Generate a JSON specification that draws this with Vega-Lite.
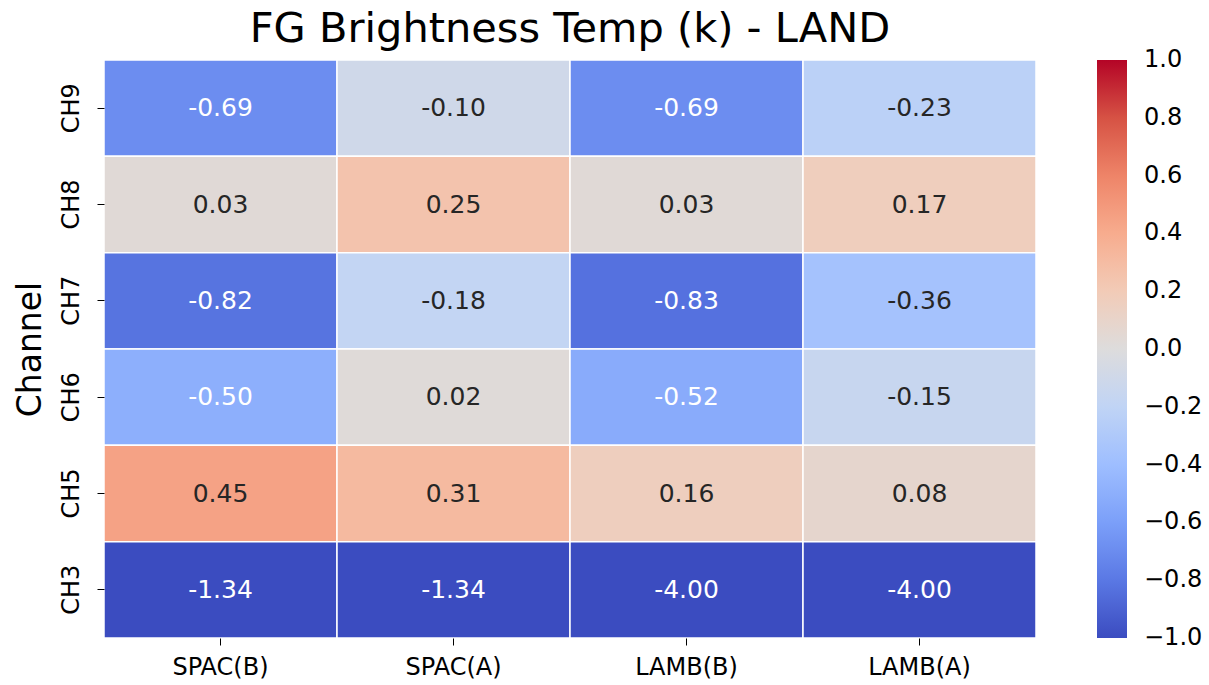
{
  "$schema": "https://vega.github.io/schema/vega-lite/v6.json",
  "autosize": {"type": "none"},
  "padding": {"left": 104, "top": 60, "right": 173, "bottom": 47},
  "width": 932,
  "height": 578,
  "background": "white",
  "title": {"text": "FG Brightness Temp (k) - LAND", "fontSize": 41.5, "font": "DejaVu Sans", "fontWeight": "normal", "color": "#000000", "anchor": "middle", "offset": 9},
  "data": {"values": [
    {"channel": "CH9", "method": "SPAC(B)", "v": -0.69},
    {"channel": "CH9", "method": "SPAC(A)", "v": -0.10},
    {"channel": "CH9", "method": "LAMB(B)", "v": -0.69},
    {"channel": "CH9", "method": "LAMB(A)", "v": -0.23},
    {"channel": "CH8", "method": "SPAC(B)", "v": 0.03},
    {"channel": "CH8", "method": "SPAC(A)", "v": 0.25},
    {"channel": "CH8", "method": "LAMB(B)", "v": 0.03},
    {"channel": "CH8", "method": "LAMB(A)", "v": 0.17},
    {"channel": "CH7", "method": "SPAC(B)", "v": -0.82},
    {"channel": "CH7", "method": "SPAC(A)", "v": -0.18},
    {"channel": "CH7", "method": "LAMB(B)", "v": -0.83},
    {"channel": "CH7", "method": "LAMB(A)", "v": -0.36},
    {"channel": "CH6", "method": "SPAC(B)", "v": -0.50},
    {"channel": "CH6", "method": "SPAC(A)", "v": 0.02},
    {"channel": "CH6", "method": "LAMB(B)", "v": -0.52},
    {"channel": "CH6", "method": "LAMB(A)", "v": -0.15},
    {"channel": "CH5", "method": "SPAC(B)", "v": 0.45},
    {"channel": "CH5", "method": "SPAC(A)", "v": 0.31},
    {"channel": "CH5", "method": "LAMB(B)", "v": 0.16},
    {"channel": "CH5", "method": "LAMB(A)", "v": 0.08},
    {"channel": "CH3", "method": "SPAC(B)", "v": -1.34},
    {"channel": "CH3", "method": "SPAC(A)", "v": -1.34},
    {"channel": "CH3", "method": "LAMB(B)", "v": -4.00},
    {"channel": "CH3", "method": "LAMB(A)", "v": -4.00}
  ]},
  "encoding": {
    "x": {"field": "method", "type": "nominal", "sort": ["SPAC(B)", "SPAC(A)", "LAMB(B)", "LAMB(A)"],
      "scale": {"paddingInner": 0, "paddingOuter": 0},
      "axis": {"title": null, "labelAngle": 0, "labelFontSize": 24, "labelFont": "DejaVu Sans", "labelColor": "#000000", "tickSize": 7, "tickColor": "#000000", "labelPadding": 10, "domain": false, "grid": false}},
    "y": {"field": "channel", "type": "nominal", "sort": ["CH9", "CH8", "CH7", "CH6", "CH5", "CH3"],
      "scale": {"paddingInner": 0, "paddingOuter": 0},
      "axis": {"title": "Channel", "titleFontSize": 33, "titleFont": "DejaVu Sans", "titleFontWeight": "normal", "titleColor": "#000000", "titlePadding": 12, "labelAngle": -90, "labelAlign": "center", "labelBaseline": "bottom", "labelFontSize": 24, "labelFont": "DejaVu Sans", "labelColor": "#000000", "tickSize": 7, "tickColor": "#000000", "labelPadding": 14, "domain": false, "grid": false}}
  },
  "layer": [
    {
      "mark": {"type": "rect", "stroke": "white", "strokeWidth": 1.5},
      "encoding": {
        "color": {"field": "v", "type": "quantitative",
          "scale": {"domain": [-1, -0.8, -0.6, -0.4, -0.2, 0, 0.2, 0.4, 0.6, 0.8, 1],
            "range": ["#3b4cc0", "#5a78e4", "#7b9ff9", "#9ebeff", "#c0d4f5", "#dddcdc", "#f2cbb7", "#f7ac8e", "#ee8468", "#d65244", "#b40426"],
            "clamp": true, "interpolate": "rgb"},
          "legend": {"title": null, "orient": "right", "offset": 61, "gradientLength": 578, "gradientThickness": 30,
            "values": [-1, -0.8, -0.6, -0.4, -0.2, 0, 0.2, 0.4, 0.6, 0.8, 1], "format": ".1f",
            "labelExpr": "replace(datum.label, '-', '\u2212')",
            "labelBaseline": "middle",
            "encode": {"labels": {"update": {"baseline": {"value": "middle"}}}},
            "labelFontSize": 24, "labelFont": "DejaVu Sans", "labelColor": "#000000", "labelOffset": 17, "labelOverlap": false, "gradientStrokeWidth": 0, "padding": 0}}
      }
    },
    {
      "mark": {"type": "text", "fontSize": 25, "font": "DejaVu Sans"},
      "encoding": {
        "text": {"field": "v", "type": "quantitative", "format": ".2f"},
        "color": {"condition": {"test": "datum.v < -0.45", "value": "#ffffff"}, "value": "#262626"}
      }
    }
  ],
  "config": {
    "view": {"stroke": null},
    "locale": {"number": {"decimal": ".", "thousands": ",", "grouping": [3], "currency": ["$", ""], "minus": "-"}}
  }
}
